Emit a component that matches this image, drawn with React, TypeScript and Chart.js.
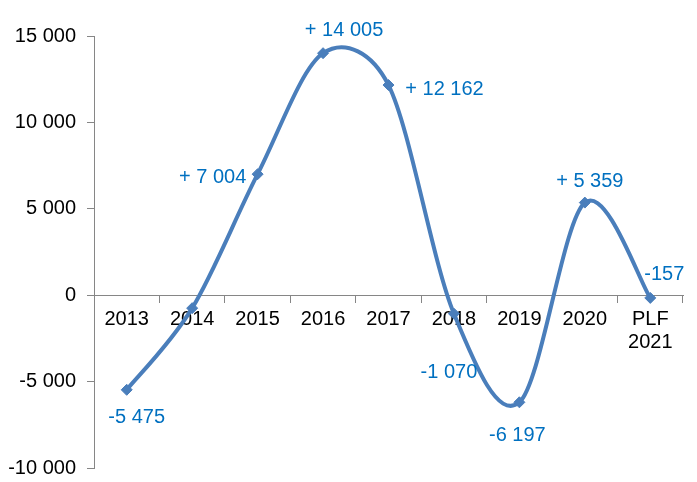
import React, { useEffect, useRef } from "react";
import { Chart, registerables } from "chart.js";

Chart.register(...registerables);

const categories: (string | string[])[] = ["2013", "2014", "2015", "2016", "2017", "2018", "2019", "2020", ["PLF", "2021"]];
const values: number[] = [-5475, -750, 7004, 14005, 12162, -1070, -6197, 5359, -157];
const showLabel: boolean[] = [true, false, true, true, true, true, true, true, true];
const yTicks: number[] = [-10000, -5000, 0, 5000, 10000, 15000];
// label placement relative to each point (dx, dy)
const labelOffsets: [number, number][] = [
  [10, 28], [0, 0], [-45, 3], [21, -23], [56, 4], [-5, 59], [-2, 33], [5, -21], [14, -23],
];

const FONT = "'Liberation Sans', Arial, sans-serif";
const LINE_COLOR = "#4A7EBB";
const LABEL_COLOR = "#0070C0";
const AXIS_COLOR = "#868686";
const SMOOTH = 1 / 6;

const fmt = (n: number) => Math.abs(n).toString().replace(/\B(?=(\d{3})+(?!\d))/g, " ");
const tickFmt = (n: number) => (n < 0 ? "-" : "") + fmt(n);
const labelFmt = (n: number) => (n > 0 ? "+ " + fmt(n) : "-" + fmt(n));

const dist = (a: any, b: any) => Math.hypot(b.x - a.x, b.y - a.y);

// Excel-like smoothing: Bezier control points at 1/6 of the neighbour chord,
// limited to half the segment length, applied to the points Chart.js placed.
const excelSmoothPlugin = {
  id: "excelSmooth",
  beforeDatasetDraw(chart: any, args: any) {
    const meta = args.meta;
    const line = meta.dataset;
    if (!line) return;
    line.updateControlPoints(chart.chartArea, "x");
    const pts = meta.data;
    const n = pts.length;
    const at = (i: number) => pts[Math.max(0, Math.min(n - 1, i))];
    for (let i = 0; i < n - 1; i++) {
      const p0 = at(i - 1), p1 = at(i), p2 = at(i + 1), p3 = at(i + 2);
      const d12 = dist(p1, p2);
      const d02 = dist(p0, p2);
      const d13 = dist(p1, p3);
      let f1 = SMOOTH, f2 = SMOOTH;
      if (d02 * SMOOTH >= d12 / 2 && d02 > 0) f1 = d12 / 2 / d02;
      if (d13 * SMOOTH >= d12 / 2 && d13 > 0) f2 = d12 / 2 / d13;
      p1.cp2x = p1.x + (p2.x - p0.x) * f1;
      p1.cp2y = p1.y + (p2.y - p0.y) * f1;
      p2.cp1x = p2.x - (p3.x - p1.x) * f2;
      p2.cp1y = p2.y - (p3.y - p1.y) * f2;
    }
    line._path = undefined;
  },
};

const dataLabelPlugin = {
  id: "dataLabels",
  afterDatasetsDraw(chart: any) {
    const ctx = chart.ctx;
    const meta = chart.getDatasetMeta(0);
    ctx.save();
    ctx.font = `20px ${FONT}`;
    ctx.fillStyle = LABEL_COLOR;
    ctx.textAlign = "center";
    ctx.textBaseline = "middle";
    meta.data.forEach((pt: any, i: number) => {
      if (!showLabel[i]) return;
      const [dx, dy] = labelOffsets[i];
      ctx.fillText(labelFmt(values[i]), pt.x + dx, pt.y + dy);
    });
    ctx.restore();
  },
};

export default function App() {
  const ref = useRef<HTMLCanvasElement | null>(null);
  useEffect(() => {
    if (!ref.current) return;
    const chart = new Chart(ref.current, {
      type: "line",
      data: {
        labels: categories,
        datasets: [
          {
            data: values,
            borderColor: LINE_COLOR,
            backgroundColor: LINE_COLOR,
            borderWidth: 4,
            tension: 0.4,
            pointStyle: "rectRot",
            pointRadius: 5.5,
            pointBorderWidth: 1,
            pointBackgroundColor: LINE_COLOR,
            pointBorderColor: LINE_COLOR,
            clip: false as any,
          },
        ],
      },
      options: {
        responsive: false,
        animation: false,
        layout: { padding: { top: 36, bottom: 14, right: 14, left: 0 } },
        plugins: { legend: { display: false }, tooltip: { enabled: false } },
        scales: {
          x: {
            type: "category",
            position: { y: 0 } as any,
            offset: true,
            grid: {
              display: true,
              offset: true,
              drawOnChartArea: false,
              drawTicks: true,
              tickLength: 7,
              color: AXIS_COLOR,
            },
            border: { display: true, color: AXIS_COLOR, width: 1 },
            ticks: {
              color: "#000",
              font: { family: FONT, size: 20, lineHeight: 1.15 },
              padding: 6,
              maxRotation: 0,
              autoSkip: false,
            },
            afterFit: (scale: any) => {
              scale.paddingTop = 0;
              scale.paddingBottom = 0;
            },
          },
          y: {
            type: "linear",
            min: -10000,
            max: 15000,
            afterBuildTicks: (scale: any) => {
              scale.ticks = yTicks.map((v) => ({ value: v }));
            },
            afterFit: (scale: any) => {
              scale.width = 94;
              scale.paddingTop = 0;
              scale.paddingBottom = 0;
            },
            grid: {
              display: true,
              drawOnChartArea: false,
              drawTicks: true,
              tickLength: 7,
              color: AXIS_COLOR,
            },
            border: { display: true, color: AXIS_COLOR, width: 1 },
            ticks: {
              color: "#000",
              font: { family: FONT, size: 20 },
              padding: 11,
              callback: (v: any) => tickFmt(Number(v)),
            },
          },
        },
      },
      plugins: [excelSmoothPlugin, dataLabelPlugin],
    });
    return () => chart.destroy();
  }, []);
  return (
    <div style={{ position: "absolute", left: 0, top: 0, width: 697, height: 482, background: "#fff" }}>
      <canvas ref={ref} width={697} height={482} style={{ display: "block", width: 697, height: 482 }} />
    </div>
  );
}
